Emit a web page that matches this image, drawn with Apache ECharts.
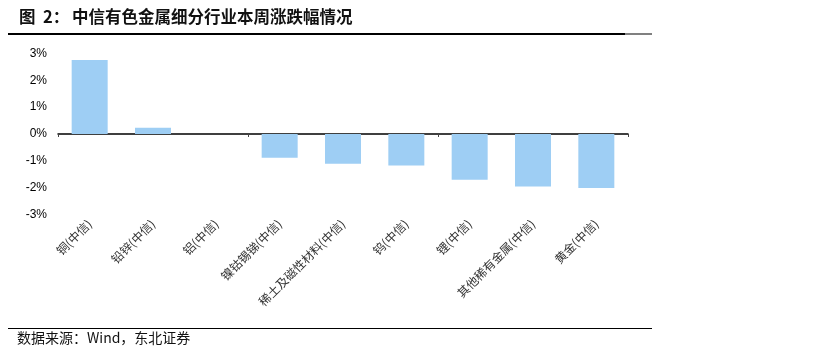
<!DOCTYPE html>
<html>
<head>
<meta charset="utf-8">
<script src="https://cdn.jsdelivr.net/npm/echarts@6/dist/echarts.min.js"></script>
<style>
html,body{margin:0;padding:0;background:#fff;}
#c{width:834px;height:357px;}
</style>
</head>
<body>
<div id="c"></div>
<script>
var categories = ['铜(中信)', '铅锌(中信)', '铝(中信)', '镍钴锡锑(中信)', '稀土及磁性材料(中信)', '钨(中信)', '锂(中信)', '其他稀有金属(中信)', '黄金(中信)'];
var values = [2.75, 0.23, 0.0, -0.88, -1.11, -1.17, -1.70, -1.95, -2.01];
var yTicks = [-3, -2, -1, 0, 1, 2, 3];

var chart = echarts.init(document.getElementById('c'));
chart.setOption({
  animation: false,
  backgroundColor: '#fff',
  grid: { left: 58, right: 206, top: 53.3, bottom: 142.3, containLabel: false },
  xAxis: [
    {
      type: 'category', data: categories,
      axisLine: { onZero: true, lineStyle: { color: '#000', width: 1.5 } },
      axisTick: { show: true, length: 3, lineStyle: { color: '#444' } },
      axisLabel: { show: false }
    },
    {
      type: 'category', data: categories, position: 'bottom',
      axisLine: { show: false }, axisTick: { show: false },
      axisLabel: {
        rotate: 45, margin: 7, interval: 0,
        fontFamily: 'Noto Sans CJK SC', fontSize: 12, color: '#333'
      }
    }
  ],
  yAxis: {
    type: 'value', min: yTicks[0], max: yTicks[yTicks.length - 1], interval: 1,
    axisLine: { show: false }, axisTick: { show: false }, splitLine: { show: false },
    axisLabel: {
      formatter: '{value}%', margin: 11,
      fontFamily: 'Liberation Sans', fontSize: 12, color: '#000'
    }
  },
  series: [{
    type: 'bar', data: values, xAxisIndex: 0, barWidth: 36,
    itemStyle: { color: '#9ECEF4' }
  }],
  graphic: [
    { type: 'text', left: 19, top: 8, style: { text: '图', font: 'bold 16.5px "Noto Sans CJK SC"', fill: '#111' } },
    { type: 'text', left: 43, top: 8, style: { text: '2：', font: 'bold 16.5px "Noto Sans CJK SC"', fill: '#111' } },
    { type: 'text', left: 72, top: 8, style: { text: '中信有色金属细分行业本周涨跌幅情况', font: 'bold 16.5px "Noto Sans CJK SC"', fill: '#111' } },
    { type: 'rect', shape: { x: 8, y: 33, width: 617, height: 2 }, style: { fill: '#000' } },
    { type: 'rect', shape: { x: 625, y: 33.5, width: 27, height: 1 }, style: { fill: '#000' } },
    { type: 'rect', shape: { x: 8, y: 328, width: 644, height: 1 }, style: { fill: '#000' } },
    { type: 'text', left: 17, top: 331, style: { text: '数据来源：Wind，东北证券', font: '14px "Noto Sans CJK SC"', fill: '#111' } }
  ]
});
</script>
</body>
</html>
